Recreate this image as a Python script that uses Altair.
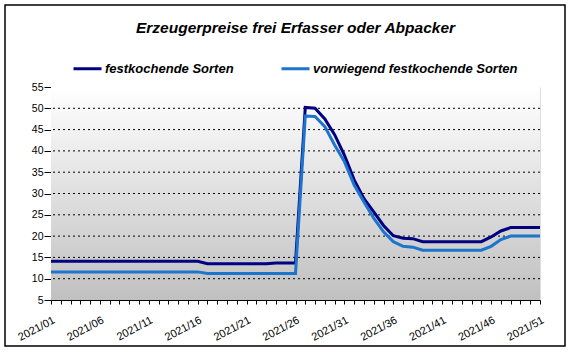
import altair as alt
import pandas as pd

weeks = [
    "2021/01", "2021/02", "2021/03", "2021/04", "2021/05", "2021/06", "2021/07", "2021/08", "2021/09", "2021/10",
    "2021/11", "2021/12", "2021/13", "2021/14", "2021/15", "2021/16", "2021/17", "2021/18", "2021/19", "2021/20",
    "2021/21", "2021/22", "2021/23", "2021/24", "2021/25", "2021/26", "2021/27", "2021/28", "2021/29", "2021/30",
    "2021/31", "2021/32", "2021/33", "2021/34", "2021/35", "2021/36", "2021/37", "2021/38", "2021/39", "2021/40",
    "2021/41", "2021/42", "2021/43", "2021/44", "2021/45", "2021/46", "2021/47", "2021/48", "2021/49", "2021/50",
    "2021/51",
]

festkochend = [
    14.1, 14.1, 14.1, 14.1, 14.1, 14.1, 14.1, 14.1, 14.1, 14.1,
    14.1, 14.1, 14.1, 14.1, 14.1, 14.1, 13.5, 13.5, 13.5, 13.5,
    13.5, 13.5, 13.5, 13.7, 13.7, 13.7, 50.2, 50.0, 47.5, 43.8,
    39.0, 33.2, 28.8, 25.7, 22.5, 20.1, 19.5, 19.4, 18.7, 18.7,
    18.7, 18.7, 18.7, 18.7, 18.7, 19.8, 21.2, 22.0, 22.0, 22.0,
    22.0,
]

vorwiegend = [
    11.6, 11.6, 11.6, 11.6, 11.6, 11.6, 11.6, 11.6, 11.6, 11.6,
    11.6, 11.6, 11.6, 11.6, 11.6, 11.6, 11.2, 11.2, 11.2, 11.2,
    11.2, 11.2, 11.2, 11.2, 11.2, 11.2, 48.2, 48.1, 45.7, 41.4,
    37.5, 32.0, 28.0, 24.2, 21.0, 18.7, 17.6, 17.4, 16.7, 16.7,
    16.7, 16.7, 16.7, 16.7, 16.7, 17.6, 19.2, 20.0, 20.0, 20.0,
    20.0,
]

series_names = ["festkochende Sorten", "vorwiegend festkochende Sorten"]
series_colors = ["#000080", "#1C74CC"]
y_ticks = [5, 10, 15, 20, 25, 30, 35, 40, 45, 50, 55]
grid_values = [10, 15, 20, 25, 30, 35, 40, 45, 50]
title_text = "Erzeugerpreise frei Erfasser oder Abpacker"

df = pd.DataFrame({
    "Woche": weeks * 2,
    "Preis": festkochend + vorwiegend,
    "Sorte": [series_names[0]] * len(weeks) + [series_names[1]] * len(weeks),
})
grid_df = pd.DataFrame({"Preis": grid_values})

W, H = 489, 213
FONT = "Liberation Sans"

color = alt.Color(
    "Sorte:N",
    scale=alt.Scale(domain=series_names, range=series_colors),
    legend=alt.Legend(
        title=None, orient="none", legendX=21, legendY=-34, direction="horizontal",
        symbolType="stroke", symbolSize=784, symbolStrokeWidth=3,
        labelFont=FONT, labelFontSize=13, labelFontStyle="italic", labelFontWeight="bold",
        labelColor="black", labelLimit=400, labelOffset=2, columnPadding=41,
    ),
)

x = alt.X(
    "Woche:O",
    sort=weeks,
    scale=alt.Scale(type="point", padding=0),
    axis=alt.Axis(
        title=None, labelAngle=-28, labelAlign="right", labelBaseline="top",
        labelExpr="(parseInt(substring(datum.value, 5, 7)) - 1) % 5 == 0 ? datum.value : ''",
        labelOverlap=False, tickSize=4, labelPadding=10, grid=False,
        domainColor="black", tickColor="black", labelColor="black",
        labelFont=FONT, labelFontSize=11,
    ),
)

yscale = alt.Scale(domain=[5, 55], nice=False, zero=False)
yaxis = alt.Axis(
    title=None, values=y_ticks, tickSize=7, labelPadding=1, grid=False,
    domainColor="black", tickColor="black", labelColor="black",
    labelFont=FONT, labelFontSize=10.5,
)
y = alt.Y("Preis:Q", scale=yscale, axis=yaxis)

gradient = alt.LinearGradient(
    gradient="linear", x1=0, y1=0, x2=0, y2=1,
    stops=[alt.GradientStop(color="#FFFFFF", offset=0), alt.GradientStop(color="#C0C0C0", offset=1)],
)

bg = alt.Chart(pd.DataFrame({"k": [0]})).mark_rect(fill=gradient).encode(
    x=alt.value(0), x2=alt.value(W), y=alt.value(0), y2=alt.value(H)
)

grid = alt.Chart(grid_df).mark_rule(color="black", strokeDash=[2, 3], strokeWidth=1).encode(y=y)

base = alt.Chart(df)
dark = base.transform_filter(alt.datum.Sorte == series_names[0]).mark_line(strokeWidth=3).encode(x=x, y=y, color=color)
light = base.transform_filter(alt.datum.Sorte == series_names[1]).mark_line(strokeWidth=3).encode(x=x, y=y, color=color)

frame = alt.Chart(pd.DataFrame({"k": [0]})).mark_rect(
    fillOpacity=0, stroke="black", strokeWidth=1.5
).encode(
    x=alt.value(-46), x2=alt.value(514), y=alt.value(-82), y2=alt.value(259)
)

chart = alt.layer(bg, grid, dark, light, frame).properties(
    width=W, height=H,
    autosize=alt.AutoSizeParams(type="none"),
    padding={"left": 51, "top": 87, "right": 30, "bottom": 52},
    title=alt.TitleParams(
        text=title_text, font=FONT, fontSize=15.5, fontStyle="italic", fontWeight="bold",
        color="black", anchor="middle", offset=-32,
    ),
).configure_view(
    stroke="black", strokeWidth=1,
).configure(background="white")

chart.save("out.html", embed_options={"renderer": "svg", "actions": False})
